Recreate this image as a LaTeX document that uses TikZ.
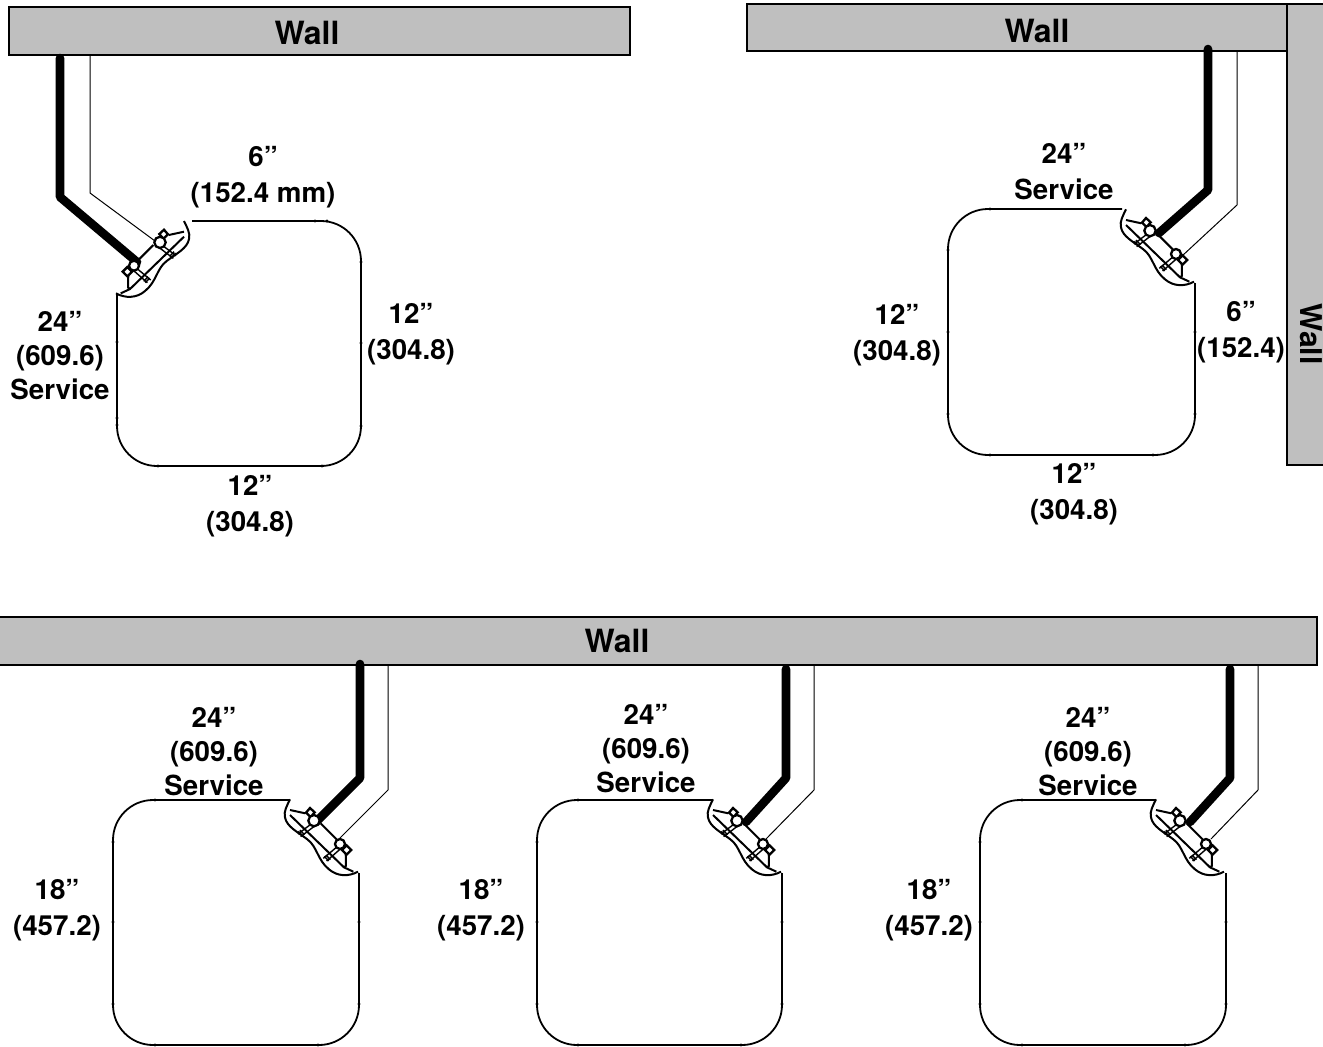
\documentclass[tikz,border=0pt]{standalone}
\usepackage{fontspec}
\setmainfont{TeX Gyre Heros}
\definecolor{wallgray}{HTML}{BFBFBF}
\tikzset{
  wallbar/.style={draw=black,line width=1.8pt,fill=wallgray,inner sep=0pt,outer sep=0pt,anchor=north west},
  walltext/.style={font=\bfseries\fontsize{32}{36}\selectfont,inner sep=0pt},
  dim/.style={font=\bfseries\fontsize{27.7}{34}\selectfont,align=center,inner sep=0pt},
  dimtwo/.style={font=\bfseries\fontsize{27.7}{36}\selectfont,align=center,inner sep=0pt},
  outline/.style={draw=black,line width=1.8pt,rounded corners=40pt},
  thickpipe/.style={draw=black,line width=8.6pt,line cap=round,line join=round},
  thinpipe/.style={draw=black,line width=1pt},
  devline/.style={draw=black,line width=2pt,line join=round},
  devfine/.style={draw=black,line width=1.4pt},
  devball/.style={draw=black,line width=2.3pt,fill=white},
}
\newcommand{\valvedev}[3]{%
\begin{scope}[shift={(#1,#2)},x=.3333pt,y=-.3333pt,xscale=#3]
  \path[devline,fill=white] (78,58) .. controls (70,75) and (58,95) .. (63,112)
     .. controls (68,140) and (100,155) .. (130,178)
     .. controls (160,200) and (160,240) .. (195,268)
     .. controls (220,290) and (255,290) .. (282,275);
  \path[devline] (78,105) -- (240,262) -- (268,275);
  \path[devline] (78,90) -- (124,100);
  \path[devline] (170,130) -- (245,205);
  \path[devline] (245,215) -- (246,258) -- (238,262);
  \path[devfine] (144,130) -- (102,162) (152,138) -- (110,170);
  \path[devfine] (222,198) -- (178,235) (230,206) -- (188,243);
  \path[devfine] (103,154) -- (116,168) (108,150) -- (121,164);
  \path[devfine] (181,229) -- (194,243) (186,225) -- (199,239);
  \path[devball] (126,98) -- (138,84) -- (152,97) -- (140,111) -- cycle;
  \path[devball] (248,196) -- (262,210) -- (248,224) -- (234,210) -- cycle;
  \path[devball] (150,122) circle (17);
  \path[devball] (228,192) circle (15);
\end{scope}}
% tiny joint marks on a cabinet outline
\newcommand{\jointmarks}[1]{\foreach \mx/\my in {#1}{\fill (\mx,\my) circle (1.7pt);}}
\begin{document}
\begin{tikzpicture}[x=1pt,y=-1pt]
\clip (0,0) rectangle (1323,1047);
% walls
\node[wallbar,minimum width=621pt,minimum height=48pt] (wallA) at (9,7) {};
\node[wallbar,minimum width=560pt,minimum height=47pt] (wallB) at (747,4) {};
\node[wallbar,minimum width=60pt,minimum height=461pt] (wallC) at (1287,4) {};
\node[wallbar,minimum width=1324pt,minimum height=48pt] (wallD) at (-7,617) {};
\node[walltext] (tA) at (307,33) {Wall};
\node[walltext] (tB) at (1037,31) {Wall};
\node[walltext,rotate=-90,font=\bfseries\fontsize{30}{36}\selectfont] (tC) at (1311,334) {Wall};
\node[walltext] (tD) at (617,641) {Wall};
% pipes, top left
\coordinate (a1) at (60,58); \coordinate (a2) at (60,197); \coordinate (a3) at (137,262);
\coordinate (a4) at (90,55); \coordinate (a5) at (90,193); \coordinate (a6) at (155,241);
\draw[thinpipe] (a4) -- (a5) -- (a6);
\draw[thickpipe] (a1) -- (a2) -- (a3);
% top right
\coordinate (b1) at (1208,49); \coordinate (b2) at (1208,190); \coordinate (b3) at (1159,233);
\coordinate (b4) at (1237,51); \coordinate (b5) at (1237,205); \coordinate (b6) at (1182,256);
\draw[thinpipe] (b4) -- (b5) -- (b6);
\draw[thickpipe] (b1) -- (b2) -- (b3);
% bottom 1
\coordinate (c1) at (360,664); \coordinate (c2) at (360,778); \coordinate (c3) at (316,822);
\coordinate (c4) at (388,665); \coordinate (c5) at (388,790); \coordinate (c6) at (340,838);
\draw[thinpipe] (c4) -- (c5) -- (c6);
\draw[thickpipe] (c1) -- (c2) -- (c3);
% bottom 2
\coordinate (d1) at (786,669); \coordinate (d2) at (786,778); \coordinate (d3) at (746,822);
\coordinate (d4) at (814,665); \coordinate (d5) at (814,790); \coordinate (d6) at (766,839);
\draw[thinpipe] (d4) -- (d5) -- (d6);
\draw[thickpipe] (d1) -- (d2) -- (d3);
% bottom 3
\coordinate (e1) at (1230,669); \coordinate (e2) at (1230,778); \coordinate (e3) at (1190,822);
\coordinate (e4) at (1258,665); \coordinate (e5) at (1258,790); \coordinate (e6) at (1211,839);
\draw[thinpipe] (e4) -- (e5) -- (e6);
\draw[thickpipe] (e1) -- (e2) -- (e3);
% cabinets
\draw[outline] (192,221) -- (361,221) -- (361,466) -- (117,466) -- (117,293);
\draw[outline] (1122,209) -- (948,209) -- (948,455) -- (1195,455) -- (1195,283);
\draw[outline] (289,800) -- (113,800) -- (113,1045) -- (359,1045) -- (359,873);
\draw[outline] (712,800) -- (537,800) -- (537,1045) -- (782,1045) -- (782,873);
\draw[outline] (1155,800) -- (980,800) -- (980,1045) -- (1226,1045) -- (1226,873);
\jointmarks{315/221,327/221,361/262,361/343,361/426,322/466,158/466,117/425,117/418,117/342}
\jointmarks{990/209,948/250,948/332,948/414,990/455,1153/455,1195/414,1195/332}
\jointmarks{155/800,113/842,113/922,113/1004,155/1045,318/1045,359/1004,359/922}
\jointmarks{578/800,537/842,537/922,537/1004,578/1045,741/1045,782/1004,782/922}
\jointmarks{1022/800,980/842,980/922,980/1004,1022/1045,1185/1045,1226/1004,1226/922}
% valves
\valvedev{210}{201.7}{-1}
\valvedev{1100}{190}{1}
\valvedev{264}{780}{1}
\valvedev{687}{780}{1}
\valvedev{1130}{780}{1}
% dimensions
\node[dimtwo] (l1) at (263,177) {6”\\(152.4 mm)};
\node[dim] (l2) at (60,356) {24”\\(609.6)\\Service};
\node[dimtwo] (l3) at (411,334) {12”\\(304.8)};
\node[dimtwo] (l4) at (250,506) {12”\\(304.8)};
\node[dimtwo] (l5) at (1064,172) {24”\\Service};
\node[dimtwo] (l6) at (897,335) {12”\\(304.8)};
\node[dimtwo] (l7) at (1241,332) {6”\\(152.4)};
\node[dimtwo] (l8) at (1074,494) {12”\\(304.8)};
\node[dim] (l9) at (214,752) {24”\\(609.6)\\Service};
\node[dimtwo] (l10) at (57,910) {18”\\(457.2)};
\node[dim] (l11) at (646,749) {24”\\(609.6)\\Service};
\node[dimtwo] (l12) at (481,910) {18”\\(457.2)};
\node[dim] (l13) at (1088,752) {24”\\(609.6)\\Service};
\node[dimtwo] (l14) at (929,910) {18”\\(457.2)};
\end{tikzpicture}
\end{document}
